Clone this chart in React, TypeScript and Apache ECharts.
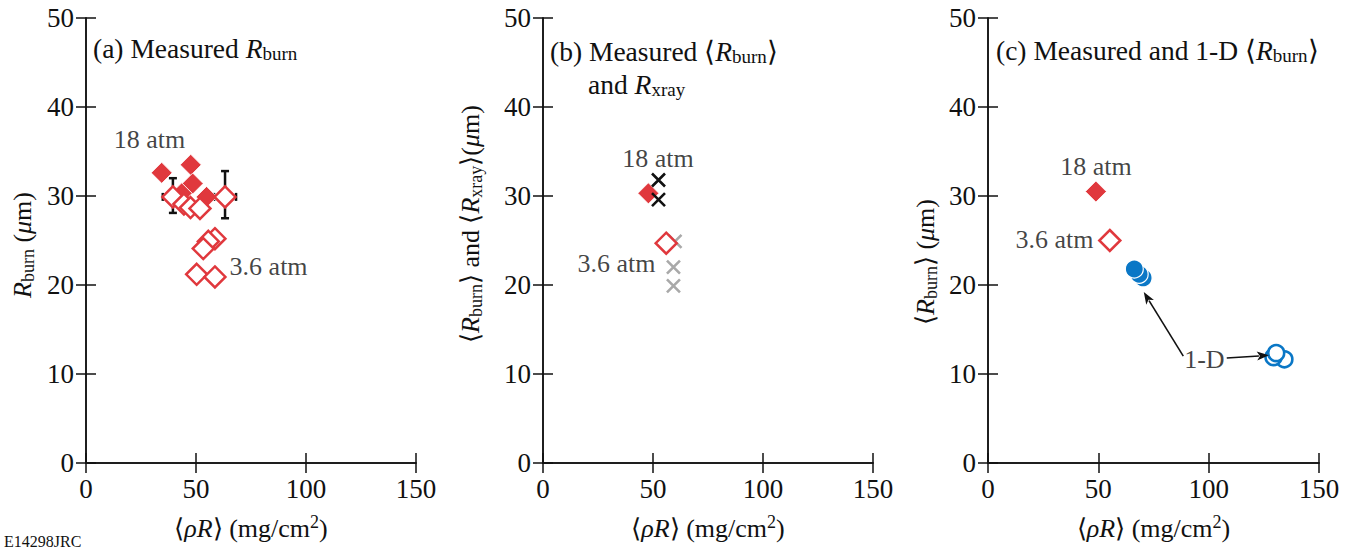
import React, { useEffect, useRef } from "react";
import * as echarts from "echarts";

const FONT = "Liberation Serif, Times New Roman, serif";
const INK = "#111111";
const RED = "#e0383d";
const BLUE = "#0a77c6";
const GREY = "#a9a9a9";

// Axis ranges (shared by all three panels)
const xRange = [0, 150];
const xStep = 50;
const yRange = [0, 50];
const yStep = 10;

// Panel (a): individual shots, R_burn vs <rhoR>
const aFilled18 = [
  [34.4, 32.6],
  [47.6, 33.5],
  [48.5, 31.4],
  [43.5, 30.3],
  [54.8, 29.9],
];
const aOpen36 = [
  [39.5, 29.9],
  [44.5, 29.1],
  [47.5, 28.7],
  [51.8, 28.6],
  [63.2, 29.9],
  [58.6, 25.2],
  [55.6, 24.9],
  [53.3, 24.1],
  [50.3, 21.2],
  [58.6, 20.9],
];
// [x, y, xLow, xHigh, yLow, yHigh]
const aErrorBars = [
  [39.5, 29.9, 34.9, 44.1, 28.1, 32.0],
  [63.2, 29.9, 58.2, 68.2, 27.5, 32.8],
];

// Panel (b): averaged R_burn and x-ray radii
const bBurn18 = [[47.9, 30.3]];
const bBurn36 = [[56.0, 24.7]];
const bXray18 = [
  [52.5, 31.8],
  [52.5, 29.6],
];
const bXray36 = [
  [60.0, 24.9],
  [59.3, 22.0],
  [59.3, 19.9],
];

// Panel (c): measured vs 1-D simulated
const cBurn18 = [[48.9, 30.5]];
const cBurn36 = [[55.2, 25.0]];
const c1D18 = [
  [70.3, 20.8],
  [68.5, 21.2],
  [66.3, 21.8],
];
const c1D36 = [
  [134.3, 11.65],
  [129.4, 11.9],
  [130.6, 12.35],
];
// [fromX, fromY, toX, toY]
const cArrows = [
  [88.5, 12.0, 70.6, 19.2],
  [108.2, 11.8, 127.3, 12.1],
];

// Annotation texts anchored in data space: [x, y, text, align]
const aNotes: [number, number, string, string][] = [
  [29.1, 36.3, "18 atm", "center"],
  [65.5, 22.0, "3.6 atm", "left"],
];
const bNotes: [number, number, string, string][] = [
  [52.5, 34.2, "18 atm", "center"],
  [51.4, 22.4, "3.6 atm", "right"],
];
const cNotes: [number, number, string, string][] = [
  [49.2, 33.3, "18 atm", "center"],
  [48.0, 25.1, "3.6 atm", "right"],
  [98.3, 11.6, "1-D", "center"],
];

const GRIDS = [
  { left: 86, top: 18, width: 330, height: 445, outerBoundsMode: "none", containLabel: false },
  { left: 543, top: 18, width: 330, height: 445, outerBoundsMode: "none", containLabel: false },
  { left: 988, top: 18, width: 331, height: 445, outerBoundsMode: "none", containLabel: false },
];

const FS = 26;
const TITLE_FS = 27.5;

function richFor(size: number) {
  const subSize = Math.round(size * 0.69);
  return {
    it: { fontFamily: FONT, fontSize: size, fontStyle: "italic", lineHeight: 30, color: INK },
    sub: { fontFamily: FONT, fontSize: subSize, lineHeight: 15, verticalAlign: "bottom", color: INK },
    sup: { fontFamily: FONT, fontSize: subSize, lineHeight: 15, verticalAlign: "top", color: INK },
  };
}

const axisLine = { show: true, lineStyle: { color: INK, width: 1.5 } };
const axisTick = { show: true, inside: true, length: 10, lineStyle: { color: INK, width: 1.5 } };
const tickLabel = { fontFamily: FONT, fontSize: 27, color: INK };

function xAxes(gi: number) {
  return [
    {
      type: "value",
      gridIndex: gi,
      min: xRange[0],
      max: xRange[1],
      interval: xStep,
      position: "bottom",
      axisLine,
      axisTick,
      splitLine: { show: false },
      axisLabel: { ...tickLabel, margin: 12 },
      name: "⟨{it|ρR}⟩ (mg/cm{sup|2})",
      nameLocation: "middle",
      nameGap: 50,
      nameTextStyle: { fontFamily: FONT, fontSize: FS, color: INK, lineHeight: 30, rich: richFor(FS) },
    },
    {
      type: "value",
      gridIndex: gi,
      min: xRange[0],
      max: xRange[1],
      interval: xStep,
      position: "top",
      axisLine,
      axisTick,
      splitLine: { show: false },
      axisLabel: { show: false },
    },
  ];
}

function yAxes(gi: number) {
  return [
    {
      type: "value",
      gridIndex: gi,
      min: yRange[0],
      max: yRange[1],
      interval: yStep,
      position: "left",
      axisLine,
      axisTick,
      splitLine: { show: false },
      axisLabel: { ...tickLabel, margin: 12 },
    },
    {
      type: "value",
      gridIndex: gi,
      min: yRange[0],
      max: yRange[1],
      interval: yStep,
      position: "right",
      axisLine,
      axisTick,
      splitLine: { show: false },
      axisLabel: { show: false },
    },
  ];
}

const CROSS = "path://M0,0L10,10M10,0L0,10";

function onGrid(gi: number) {
  return { xAxisIndex: gi * 2, yAxisIndex: gi * 2 };
}

function filledDiamonds(gi: number, data: number[][], z = 3) {
  return {
    type: "scatter",
    ...onGrid(gi),
    data,
    symbol: "diamond",
    symbolSize: 21,
    itemStyle: { color: RED, borderColor: "#ffffff", borderWidth: 0.8, opacity: 1 },
    z,
    silent: true,
  };
}

function openDiamonds(gi: number, data: number[][], z = 4) {
  return {
    type: "scatter",
    ...onGrid(gi),
    data,
    symbol: "diamond",
    symbolSize: 21,
    itemStyle: { color: "#ffffff", borderColor: RED, borderWidth: 2.5, opacity: 1 },
    z,
    silent: true,
  };
}

function crosses(gi: number, data: number[][], color: string, z: number) {
  return {
    type: "scatter",
    ...onGrid(gi),
    data,
    symbol: CROSS,
    symbolSize: 13,
    itemStyle: { color: "none", borderColor: color, borderWidth: 2.6, opacity: 1 },
    z,
    silent: true,
  };
}

function notes(gi: number, list: [number, number, string, string][]) {
  return {
    type: "scatter",
    ...onGrid(gi),
    symbolSize: 1,
    itemStyle: { color: "rgba(0,0,0,0)" },
    z: 6,
    silent: true,
    data: list.map(([x, y, text, align]) => ({
      value: [x, y],
      label: {
        show: true,
        position: [0, 0],
        formatter: text,
        align,
        verticalAlign: "middle",
        fontFamily: FONT,
        fontSize: FS,
        color: INK,
      },
    })),
  };
}

function errorBars(gi: number, data: number[][]) {
  return {
    type: "custom",
    ...onGrid(gi),
    data,
    encode: { x: 0, y: 1 },
    z: 2,
    silent: true,
    renderItem: (_params: any, api: any) => {
      const x = api.value(0);
      const y = api.value(1);
      const pL = api.coord([api.value(2), y]);
      const pR = api.coord([api.value(3), y]);
      const pB = api.coord([x, api.value(4)]);
      const pT = api.coord([x, api.value(5)]);
      const c = 4;
      const style = { stroke: INK, lineWidth: 2.5 };
      const seg = (x1: number, y1: number, x2: number, y2: number) => ({
        type: "line",
        shape: { x1, y1, x2, y2 },
        style,
      });
      return {
        type: "group",
        children: [
          seg(pL[0], pL[1], pR[0], pR[1]),
          seg(pL[0], pL[1] - c, pL[0], pL[1] + c),
          seg(pR[0], pR[1] - c, pR[0], pR[1] + c),
          seg(pB[0], pB[1], pT[0], pT[1]),
          seg(pB[0] - c, pB[1], pB[0] + c, pB[1]),
          seg(pT[0] - c, pT[1], pT[0] + c, pT[1]),
        ],
      };
    },
  };
}

function arrows(gi: number, data: number[][]) {
  return {
    type: "custom",
    ...onGrid(gi),
    data,
    encode: { x: [0, 2], y: [1, 3] },
    z: 5,
    silent: true,
    renderItem: (_params: any, api: any) => {
      const a = api.coord([api.value(0), api.value(1)]);
      const b = api.coord([api.value(2), api.value(3)]);
      const dx = b[0] - a[0];
      const dy = b[1] - a[1];
      const len = Math.hypot(dx, dy);
      const ux = dx / len;
      const uy = dy / len;
      const head = 12;
      const half = 4.5;
      const bx = b[0] - ux * head;
      const by = b[1] - uy * head;
      return {
        type: "group",
        children: [
          {
            type: "line",
            shape: { x1: a[0], y1: a[1], x2: bx + ux * 2, y2: by + uy * 2 },
            style: { stroke: INK, lineWidth: 1.6 },
          },
          {
            type: "polygon",
            shape: {
              points: [
                [b[0], b[1]],
                [bx - uy * half, by + ux * half],
                [bx + ux * 3, by + uy * 3],
                [bx + uy * half, by - ux * half],
              ],
            },
            style: { fill: INK },
          },
        ],
      };
    },
  };
}

function circles(gi: number, data: number[][], filled: boolean) {
  return {
    type: "scatter",
    ...onGrid(gi),
    data,
    symbol: "circle",
    symbolSize: filled ? 18 : 16,
    itemStyle: filled
      ? { color: BLUE, borderColor: "#ffffff", borderWidth: 1.2, opacity: 1 }
      : { color: "#ffffff", borderColor: BLUE, borderWidth: 2.6, opacity: 1 },
    z: 4,
    silent: true,
  };
}

function panelText(x: number, y: number, text: string, size: number, rotate = false) {
  return {
    type: "text",
    x,
    y,
    rotation: rotate ? Math.PI / 2 : 0,
    silent: true,
    style: {
      text,
      rich: richFor(size),
      fontFamily: FONT,
      fontSize: size,
      lineHeight: 30,
      fill: INK,
      align: rotate ? "center" : "left",
      verticalAlign: "middle",
    },
  };
}

export default function App() {
  const ref = useRef<HTMLDivElement>(null);

  useEffect(() => {
    document.body.style.margin = "0";
    if (!ref.current) return;
    const chart = echarts.init(ref.current, undefined, { renderer: "svg" });

    const option = {
      animation: false,
      backgroundColor: "#ffffff",
      textStyle: { fontFamily: FONT },
      grid: GRIDS,
      xAxis: [...xAxes(0), ...xAxes(1), ...xAxes(2)],
      yAxis: [...yAxes(0), ...yAxes(1), ...yAxes(2)],
      series: [
        // (a)
        errorBars(0, aErrorBars),
        filledDiamonds(0, aFilled18),
        openDiamonds(0, aOpen36),
        notes(0, aNotes),
        // (b)
        crosses(1, bXray36, GREY, 2),
        openDiamonds(1, bBurn36),
        filledDiamonds(1, bBurn18),
        crosses(1, bXray18, INK, 5),
        notes(1, bNotes),
        // (c)
        filledDiamonds(2, cBurn18),
        openDiamonds(2, cBurn36),
        circles(2, c1D18, true),
        circles(2, c1D36, false),
        arrows(2, cArrows),
        notes(2, cNotes),
      ],
      graphic: [
        panelText(93, 48, "(a) Measured {it|R}{sub|burn}", TITLE_FS),
        panelText(550, 51, "(b) Measured ⟨{it|R}{sub|burn}⟩", TITLE_FS),
        panelText(588, 84, "and {it|R}{sub|xray}", TITLE_FS),
        panelText(996, 50, "(c) Measured and 1-D ⟨{it|R}{sub|burn}⟩", TITLE_FS),
        panelText(22, 245, "{it|R}{sub|burn} ({it|μ}m)", FS, true),
        panelText(470, 224, "⟨{it|R}{sub|burn}⟩ and ⟨{it|R}{sub|xray}⟩({it|μ}m)", FS, true),
        panelText(925, 262, "⟨{it|R}{sub|burn}⟩ ({it|μ}m)", FS, true),
        {
          type: "text",
          x: 4,
          y: 541,
          silent: true,
          style: {
            text: "E14298JRC",
            fontFamily: FONT,
            fontSize: 16,
            fill: INK,
            align: "left",
            verticalAlign: "middle",
          },
        },
      ],
    };

    chart.setOption(option as any);
    return () => chart.dispose();
  }, []);

  return <div ref={ref} style={{ width: 1350, height: 548 }} />;
}
